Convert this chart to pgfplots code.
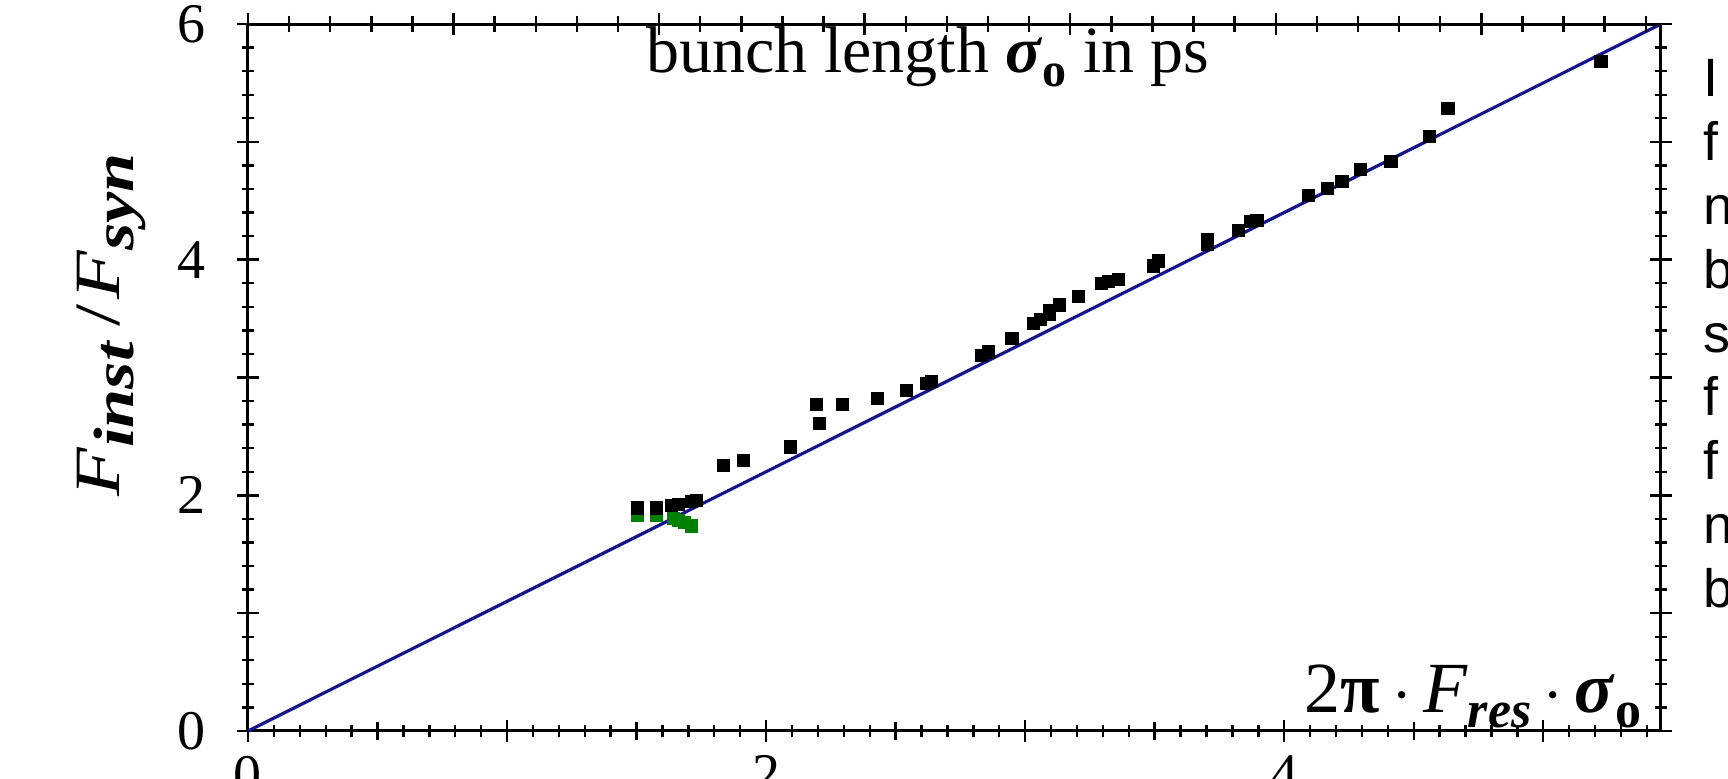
\documentclass[border=0pt]{standalone}
\usepackage{fontspec}
\usepackage{graphicx}
\setmainfont{Liberation Serif}
\newfontfamily\arial{Liberation Sans}
\usepackage{pgfplots}
\pgfplotsset{compat=1.18}
\definecolor{lineblue}{RGB}{20,20,140}
\definecolor{mgreen}{RGB}{0,128,0}
\newcommand\sub[2][11]{\raisebox{-0.45ex}{\fontsize{#1}{#1}\selectfont #2}}
\begin{document}
\begin{tikzpicture}
\path[use as bounding box] (-62pt,-12pt) rectangle (370pt,182.75pt);
\begin{axis}[
  at={(0,0)}, anchor=south west,
  scale only axis, width=353.25pt, height=176.75pt,
  xmin=0, xmax=5.4545, ymin=0, ymax=6,
  xtick={0,1,2,3,4,5}, xticklabels={0,,2,,4,},
  minor xtick={0,0.1,...,5.45},
  extra x ticks={0.5,1.5,2.5,3.5,4.5}, extra x tick labels={},
  extra x tick style={major tick length=4.4pt},
  xtick pos=left,
  ytick={0,1,2,3,4,5,6}, yticklabels={0,,2,,4,,6},
  minor ytick={0,0.2,...,6.01},
  ytick pos=both,
  tick align=center, major tick length=5.4pt, minor tick length=3.2pt,
  tick style={black, line width=0.6pt},
  axis line style={line width=0.75pt},
  tick label style={font=\fontsize{14}{16}\selectfont},
  yticklabel style={xshift=-4.5pt},
  /pgf/number format/assume math mode=true,
  clip=false,
]
\addplot[lineblue, line width=0.8pt] coordinates {(0,0) (5.4545,6)};
\addplot[only marks, mark=square*, mark size=1.45pt, color=mgreen] coordinates {
(1.505,1.83) (1.578,1.83) (1.643,1.80) (1.661,1.786) (1.685,1.77) (1.713,1.74)
};
\addplot[only marks, mark=square*, mark size=1.45pt, color=black] coordinates {
(1.505,1.893) (1.578,1.893) (1.636,1.912) (1.661,1.92) (1.713,1.95) (1.732,1.955)
(1.835,2.25) (1.912,2.293) (2.095,2.41) (2.196,2.772) (2.205,2.61) (2.295,2.772)
(2.431,2.82) (2.541,2.89) (2.620,2.947) (2.640,2.964) (2.833,3.19) (2.858,3.217)
(2.949,3.333) (3.032,3.457) (3.060,3.494) (3.094,3.536) (3.094,3.565) (3.133,3.615)
(3.206,3.69) (3.296,3.796) (3.322,3.813) (3.360,3.833) (3.496,3.946) (3.515,3.988)
(3.704,4.17) (3.704,4.13) (3.824,4.248) (3.871,4.327) (3.895,4.333)
(4.094,4.547) (4.167,4.604) (4.223,4.666) (4.293,4.765) (4.412,4.83)
(4.56,5.047) (4.632,5.286) (5.223,5.68)
};
\end{axis}
\begin{axis}[
  at={(0,0)}, anchor=south west,
  scale only axis, width=353.25pt, height=176.75pt,
  xmin=0, xmax=5.4545, ymin=0, ymax=6,
  axis x line*=top, axis y line=none,
  xtick={0,0.7935,...,5.4}, xticklabels={},
  minor xtick={0,0.1587,...,5.45},
  tick align=center, major tick length=5.4pt, minor tick length=4.2pt,
  tick style={black, line width=0.6pt},
  axis line style={line width=0.75pt},
]
\end{axis}
\node[anchor=base, inner sep=0, font=\fontsize{16.5}{19}\selectfont] at (170pt,164.5pt)
  {bunch length \textbf{\textit{σ}}\sub[12]{\textbf{o}} in ps};
\node[anchor=base east, inner sep=0, font=\fontsize{18}{21}\selectfont] at (348.5pt,4.5pt)
  {2\textbf{π}\,$\cdot$\,\textit{F}\sub[13]{\textbf{\textit{res}}}\,$\cdot$\,\textbf{\textit{σ}}\sub[13]{\textbf{o}}};
\node[anchor=base, rotate=90, inner sep=0, font=\fontsize{17}{20}\selectfont] at (-32pt,101.5pt)
  {\scalebox{1.17}[0.95]{\textit{F}\sub[15]{\textbf{\textit{inst}}}\hspace{3pt}/\hspace{1pt}\textit{F}\sub[15]{\textbf{\textit{syn}}}}};
\foreach \t [count=\i from 0] in {I,f,n,b,s,f,f,n,b} {
  \node[anchor=base west, inner sep=0, font=\arial\fontsize{13.5}{15}\selectfont] at (363.75pt,{158.5pt-15.95pt*\i}) {\t};
}
\end{tikzpicture}
\end{document}
